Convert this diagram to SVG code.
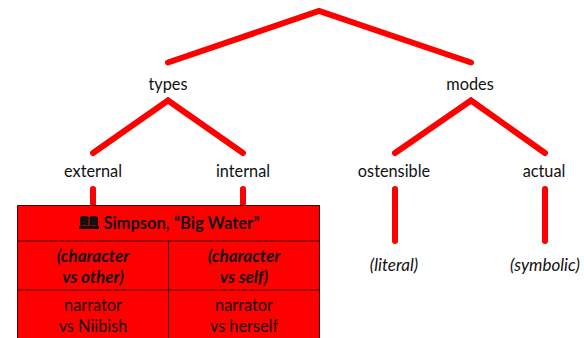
<svg xmlns="http://www.w3.org/2000/svg" width="584" height="338" viewBox="0 0 584 338">
<style>
text{font-family:"Lato","Carlito","Liberation Sans",sans-serif;font-size:16.300px;fill:#111;text-anchor:middle}
.i{font-style:italic}
.b{font-weight:700;font-size:17px}
.c{fill:none;stroke:#f00;stroke-width:6;stroke-linecap:round;stroke-linejoin:miter}
.t{stroke:#400;stroke-width:1;fill:none}
</style>
<g id="connectors">
<path class="c" d="M168 62.500L319 11L471 62.500"/>
<path class="c" d="M93 153L168 100.500L243 153"/>
<path class="c" d="M395 153L471 100.500L545 153"/>
<path class="c" d="M93 189V206M243 189V206"/>
<path class="c" d="M395 189V241M545 189V241"/>
</g>
<g id="types"><text x="168" y="90">types</text></g>
<g id="modes"><text x="470" y="90">modes</text></g>
<g id="external"><text x="93" y="177">external</text></g>
<g id="internal"><text x="243" y="177">internal</text></g>
<g id="ostensible"><text x="394" y="177">ostensible</text></g>
<g id="actual"><text x="544" y="177">actual</text></g>
<g id="literal"><text class="i" x="394" y="271" style="font-size:17px">(literal)</text></g>
<g id="symbolic"><text class="i" x="545" y="271" style="font-size:17px">(symbolic)</text></g>
<g id="table">
<rect x="17.500" y="205.500" width="302.500" height="133" fill="#f00"/>
<path class="t" d="M17.500 338V205.500H319.500V338M17.500 241H319.500M17.500 290H319.500M168.500 241V338"/>
<path d="M80 217Q85 215 88.500 217V226Q85 224.500 80 226ZM89.500 217Q93 215 98 217V226Q93 224.500 89.500 226ZM79 226V229H99V226H89Z" fill="#111"/>
<text class="b" x="181.500" y="229" style="font-size:16.500px">Simpson, “Big Water”</text>
<text class="b i" x="93" y="262">(character</text>
<text class="b i" x="93" y="283">vs other)</text>
<text class="b i" x="244" y="262">(character</text>
<text class="b i" x="244" y="283">vs self)</text>
<text x="93" y="311">narrator</text>
<text x="93" y="332">vs Niibish</text>
<text x="244" y="311">narrator</text>
<text x="244" y="332">vs herself</text>
</g>
</svg>
